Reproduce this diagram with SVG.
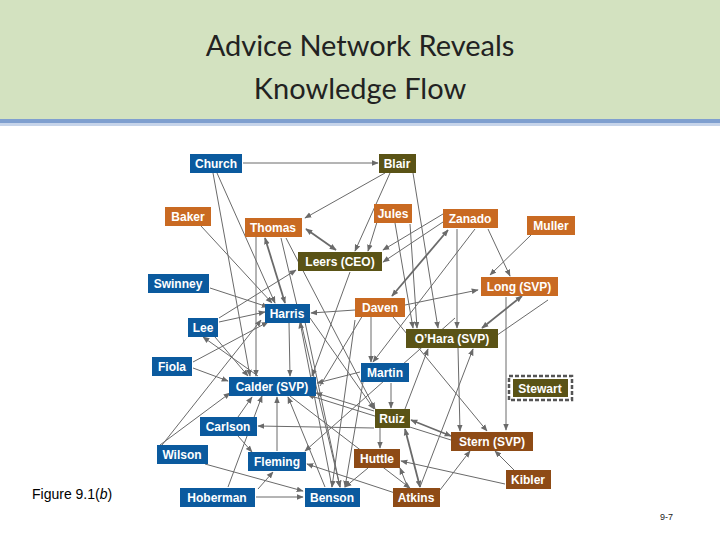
<svg xmlns="http://www.w3.org/2000/svg" width="720" height="540" viewBox="0 0 720 540">
<style>
.b{fill:#0b5a9e}.o{fill:#c96a22}.v{fill:#5a5316}.r{fill:#8e4b16}
.t{font-family:"Liberation Sans",Arial,sans-serif;font-weight:bold;font-size:12px;fill:#fff;text-anchor:middle}
#edges line{stroke:#6a6a6a;stroke-width:1;marker-end:url(#a)}
#edges line.d{stroke-width:1.8;marker-start:url(#a2);marker-end:url(#a2)}
</style>
<defs>
<marker id="a" viewBox="0 0 10 10" refX="9" refY="5" markerWidth="7" markerHeight="7" orient="auto-start-reverse" markerUnits="userSpaceOnUse"><path d="M0,1L10,5L0,9z" fill="#6a6a6a"/></marker>
<marker id="a2" viewBox="0 0 10 10" refX="9" refY="5" markerWidth="7" markerHeight="7" orient="auto-start-reverse" markerUnits="userSpaceOnUse"><path d="M0,1L10,5L0,9z" fill="#6a6a6a"/></marker>
</defs>
<rect width="720" height="540" fill="#fff"/>
<rect width="720" height="119" fill="#d3e2c0"/>
<rect y="119" width="720" height="4" fill="#7f9fcf"/>
<rect y="123" width="720" height="3" fill="#c6d4ea"/>
<text x="360" y="56" font-family="Lato,'Open Sans',sans-serif" font-size="29" fill="#222" text-anchor="middle">Advice Network Reveals</text>
<text x="360" y="99" font-family="Lato,'Open Sans',sans-serif" font-size="29" fill="#222" text-anchor="middle">Knowledge Flow</text>
<g id="edges">
<line x1="243" y1="163" x2="378" y2="163"/>
<line x1="385" y1="173" x2="305" y2="218"/>
<line x1="390" y1="173" x2="355" y2="251"/>
<line x1="413" y1="173" x2="438" y2="328"/>
<line x1="377" y1="222" x2="368" y2="251"/>
<line x1="395" y1="223" x2="413" y2="328"/>
<line x1="410" y1="224" x2="417" y2="328"/>
<line x1="443" y1="214" x2="383" y2="250"/>
<line x1="443" y1="222" x2="383" y2="262"/>
<line class="d" x1="448" y1="230" x2="392" y2="296"/>
<line x1="488" y1="229" x2="510" y2="276"/>
<line x1="457" y1="229" x2="457" y2="328"/>
<line x1="475" y1="229" x2="373" y2="362"/>
<line x1="531" y1="235" x2="490" y2="275"/>
<line class="d" x1="522" y1="296" x2="482" y2="328"/>
<line x1="506" y1="297" x2="506" y2="430"/>
<line x1="548" y1="300" x2="490" y2="340"/>
<line class="d" x1="306" y1="229" x2="336" y2="250"/>
<line class="d" x1="265" y1="238" x2="285" y2="303"/>
<line x1="217" y1="173" x2="275" y2="303"/>
<line x1="213" y1="173" x2="250" y2="376"/>
<line x1="201" y1="226" x2="272" y2="303"/>
<line x1="210" y1="288" x2="268" y2="307"/>
<line x1="219" y1="322" x2="265" y2="312"/>
<line x1="219" y1="318" x2="296" y2="270"/>
<line x1="215" y1="337" x2="248" y2="376"/>
<line x1="355" y1="310" x2="311" y2="313"/>
<line x1="405" y1="305" x2="478" y2="290"/>
<line x1="371" y1="317" x2="371" y2="362"/>
<line x1="393" y1="317" x2="487" y2="431"/>
<line x1="193" y1="362" x2="268" y2="322"/>
<line x1="193" y1="368" x2="228" y2="381"/>
<line x1="360" y1="372" x2="317" y2="383"/>
<line x1="391" y1="383" x2="391" y2="408"/>
<line x1="374" y1="428" x2="258" y2="426"/>
<line class="d" x1="411" y1="420" x2="451" y2="436"/>
<line x1="380" y1="428" x2="380" y2="448"/>
<line x1="405" y1="409" x2="428" y2="349"/>
<line x1="374" y1="411" x2="316" y2="393"/>
<line x1="451" y1="440" x2="308" y2="395"/>
<line x1="458" y1="348" x2="460" y2="431"/>
<line x1="514" y1="470" x2="495" y2="451"/>
<line x1="505" y1="484" x2="401" y2="461"/>
<line x1="440" y1="490" x2="470" y2="451"/>
<line x1="408" y1="488" x2="400" y2="468"/>
<line x1="395" y1="493" x2="307" y2="464"/>
<line class="d" x1="420" y1="487" x2="405" y2="429"/>
<line x1="420" y1="487" x2="473" y2="349"/>
<line x1="368" y1="468" x2="345" y2="487"/>
<line x1="256" y1="497" x2="303" y2="497"/>
<line x1="258" y1="489" x2="273" y2="472"/>
<line x1="228" y1="487" x2="262" y2="396"/>
<line x1="205" y1="464" x2="303" y2="491"/>
<line x1="160" y1="445" x2="230" y2="393"/>
<line x1="162" y1="445" x2="261" y2="320"/>
<line x1="238" y1="436" x2="252" y2="452"/>
<line x1="238" y1="417" x2="252" y2="397"/>
<line x1="277" y1="451" x2="277" y2="397"/>
<line x1="325" y1="487" x2="288" y2="397"/>
<line x1="332" y1="487" x2="300" y2="322"/>
<line x1="256" y1="237" x2="256" y2="376"/>
<line x1="289" y1="323" x2="290" y2="376"/>
<line x1="281" y1="238" x2="340" y2="487"/>
<line x1="286" y1="238" x2="375" y2="409"/>
<line x1="350" y1="272" x2="312" y2="376"/>
<line x1="355" y1="320" x2="332" y2="487"/>
<line x1="363" y1="382" x2="345" y2="487"/>
<line x1="290" y1="396" x2="410" y2="488"/>
<line x1="305" y1="322" x2="340" y2="487"/>
<line x1="310" y1="318" x2="374" y2="409"/>
<line x1="455" y1="318" x2="305" y2="451"/>
<line x1="320" y1="386" x2="372" y2="300"/>
<line x1="258" y1="376" x2="203" y2="337"/>
</g>
<g id="Church"><rect class="b" x="190" y="154" width="52" height="19"/><text class="t" x="216" y="168">Church</text></g>
<g id="Blair"><rect class="v" x="379" y="154" width="37" height="19"/><text class="t" x="397" y="168">Blair</text></g>
<g id="Baker"><rect class="o" x="165" y="207" width="46" height="19"/><text class="t" x="188" y="221">Baker</text></g>
<g id="Thomas"><rect class="o" x="245" y="218" width="57" height="19"/><text class="t" x="273" y="232">Thomas</text></g>
<g id="Jules"><rect class="o" x="374" y="204" width="38" height="19"/><text class="t" x="393" y="218">Jules</text></g>
<g id="Zanado"><rect class="o" x="443" y="209" width="55" height="19"/><text class="t" x="470" y="223">Zanado</text></g>
<g id="Muller"><rect class="o" x="527" y="216" width="48" height="19"/><text class="t" x="551" y="230">Muller</text></g>
<g id="Leers"><rect class="v" x="298" y="252" width="84" height="19"/><text class="t" x="340" y="266">Leers (CEO)</text></g>
<g id="Swinney"><rect class="b" x="148" y="274" width="61" height="19"/><text class="t" x="178" y="288">Swinney</text></g>
<g id="Long"><rect class="o" x="481" y="277" width="77" height="19"/><text class="t" x="519" y="291">Long (SVP)</text></g>
<g id="Harris"><rect class="b" x="265" y="304" width="45" height="19"/><text class="t" x="287" y="318">Harris</text></g>
<g id="Daven"><rect class="o" x="355" y="298" width="50" height="19"/><text class="t" x="380" y="312">Daven</text></g>
<g id="Lee"><rect class="b" x="188" y="318" width="30" height="19"/><text class="t" x="203" y="332">Lee</text></g>
<g id="OHara"><rect class="v" x="406" y="329" width="92" height="19"/><text class="t" x="452" y="343">O’Hara (SVP)</text></g>
<g id="Fiola"><rect class="b" x="152" y="357" width="40" height="19"/><text class="t" x="172" y="371">Fiola</text></g>
<g id="Martin"><rect class="b" x="361" y="363" width="48" height="19"/><text class="t" x="385" y="377">Martin</text></g>
<g id="Calder"><rect class="b" x="229" y="377" width="87" height="19"/><text class="t" x="272" y="391">Calder (SVP)</text></g>
<g id="Stewart"><rect x="509" y="376" width="63" height="24" fill="#fff" stroke="#555" stroke-width="2.5" stroke-dasharray="4,2"/><rect class="v" x="513" y="379" width="55" height="18"/><text class="t" x="540" y="393">Stewart</text></g>
<g id="Ruiz"><rect class="v" x="375" y="409" width="35" height="19"/><text class="t" x="392" y="423">Ruiz</text></g>
<g id="Carlson"><rect class="b" x="200" y="417" width="57" height="19"/><text class="t" x="228" y="431">Carlson</text></g>
<g id="Stern"><rect class="r" x="451" y="432" width="82" height="19"/><text class="t" x="492" y="446">Stern (SVP)</text></g>
<g id="Wilson"><rect class="b" x="157" y="445" width="51" height="19"/><text class="t" x="182" y="459">Wilson</text></g>
<g id="Fleming"><rect class="b" x="248" y="452" width="58" height="19"/><text class="t" x="277" y="466">Fleming</text></g>
<g id="Huttle"><rect class="r" x="354" y="449" width="46" height="19"/><text class="t" x="377" y="463">Huttle</text></g>
<g id="Kibler"><rect class="r" x="506" y="470" width="45" height="19"/><text class="t" x="528" y="484">Kibler</text></g>
<g id="Hoberman"><rect class="b" x="180" y="488" width="75" height="19"/><text class="t" x="217" y="502">Hoberman</text></g>
<g id="Benson"><rect class="b" x="305" y="488" width="55" height="19"/><text class="t" x="332" y="502">Benson</text></g>
<g id="Atkins"><rect class="r" x="393" y="488" width="47" height="19"/><text class="t" x="416" y="502">Atkins</text></g>
<text x="32" y="499" font-family="'Liberation Sans',Arial,sans-serif" font-size="14" fill="#000">Figure 9.1(<tspan font-style="italic">b</tspan>)</text>
<text x="660" y="520" font-family="'Liberation Sans',Arial,sans-serif" font-size="9" fill="#222">9-7</text>
</svg>
